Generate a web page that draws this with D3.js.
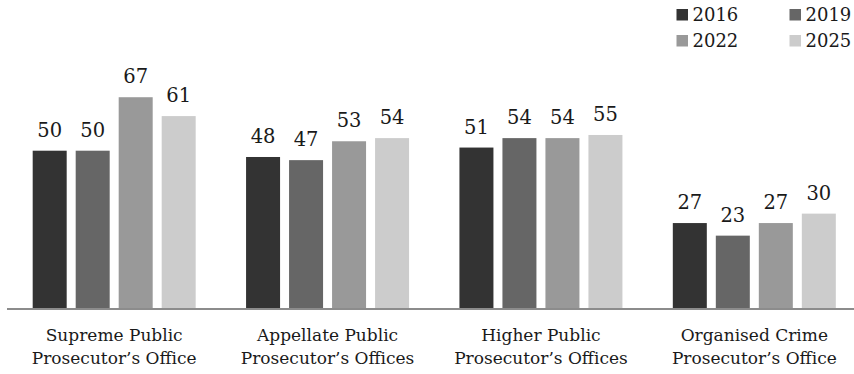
<!DOCTYPE html>
<html>
<head>
<meta charset="utf-8">
<script src="https://cdn.jsdelivr.net/npm/d3@7"></script>
<style>
  html, body { margin: 0; padding: 0; background: #fff; }
  svg { display: block; }
  text { font-family: "DejaVu Serif", "Liberation Serif", serif; fill: #1a1a1a; }
</style>
</head>
<body>
<svg id="chart" width="854" height="374"></svg>
<script>
// Prosecutors' offices and survey years
const categories = [
  ["Supreme Public", "Prosecutor\u2019s Office"],
  ["Appellate Public", "Prosecutor\u2019s Offices"],
  ["Higher Public", "Prosecutor\u2019s Offices"],
  ["Organised Crime", "Prosecutor\u2019s Office"]
];
const years = ["2016", "2019", "2022", "2025"];
const values2016 = [50, 48, 51, 27];
const values2019 = [50, 47, 54, 23];
const values2022 = [67, 53, 54, 27];
const values2025 = [61, 54, 55, 30];
const colors = ["#333333", "#666666", "#999999", "#cccccc"];

const series = [values2016, values2019, values2022, values2025];
const svg = d3.select("#chart");

const baseY = 308;
const x0 = d3.scaleBand().domain(d3.range(categories.length)).range([7.5, 861]);
// four bars per office, 34px wide with 9px gaps
const x1 = d3.scaleBand().domain(years).range([0, 163]).paddingInner(9 / 43).paddingOuter(0);
const y = d3.scaleLinear().domain([0, 50]).range([baseY, 150.7]);

const groupOffset = (x0.bandwidth() - 163) / 2;

const groups = svg.selectAll("g.group")
  .data(categories)
  .join("g")
  .attr("class", "group")
  .attr("transform", (d, i) => `translate(${x0(i) + groupOffset},0)`);

groups.each(function (cat, ci) {
  const g = d3.select(this);
  years.forEach((yr, si) => {
    const v = series[si][ci];
    g.append("rect")
      .attr("x", x1(yr))
      .attr("y", y(v))
      .attr("width", x1.bandwidth())
      .attr("height", baseY - y(v))
      .attr("fill", colors[si]);
    g.append("text")
      .attr("x", x1(yr) + x1.bandwidth() / 2)
      .attr("y", y(v) - 14)
      .attr("text-anchor", "middle")
      .attr("font-size", 19.5)
      .text(v);
  });
});

// baseline
svg.append("line")
  .attr("x1", 7).attr("x2", 854)
  .attr("y1", baseY + 1).attr("y2", baseY + 1)
  .attr("stroke", "#8c8c8c").attr("stroke-width", 2);

// category labels
svg.selectAll("text.cat")
  .data(categories)
  .join("text")
  .attr("class", "cat")
  .attr("x", (d, i) => x0(i) + x0.bandwidth() / 2)
  .attr("y", 340.5)
  .attr("text-anchor", "middle")
  .attr("font-size", 17)
  .selectAll("tspan")
  .data(d => d)
  .join("tspan")
  .attr("x", function () { return d3.select(this.parentNode).attr("x"); })
  .attr("dy", (d, i) => i === 0 ? 0 : 23.8)
  .text(d => d);

// legend
const legend = svg.append("g");
years.forEach((yr, i) => {
  const lx = 676.5 + (i % 2) * 113;
  const ly = 9 + Math.floor(i / 2) * 26;
  legend.append("rect").attr("x", lx).attr("y", ly).attr("width", 11.5).attr("height", 11.5).attr("fill", colors[i]);
  legend.append("text").attr("x", lx + 16).attr("y", ly + 11.8).attr("font-size", 18).text(yr);
});
</script>
</body>
</html>
